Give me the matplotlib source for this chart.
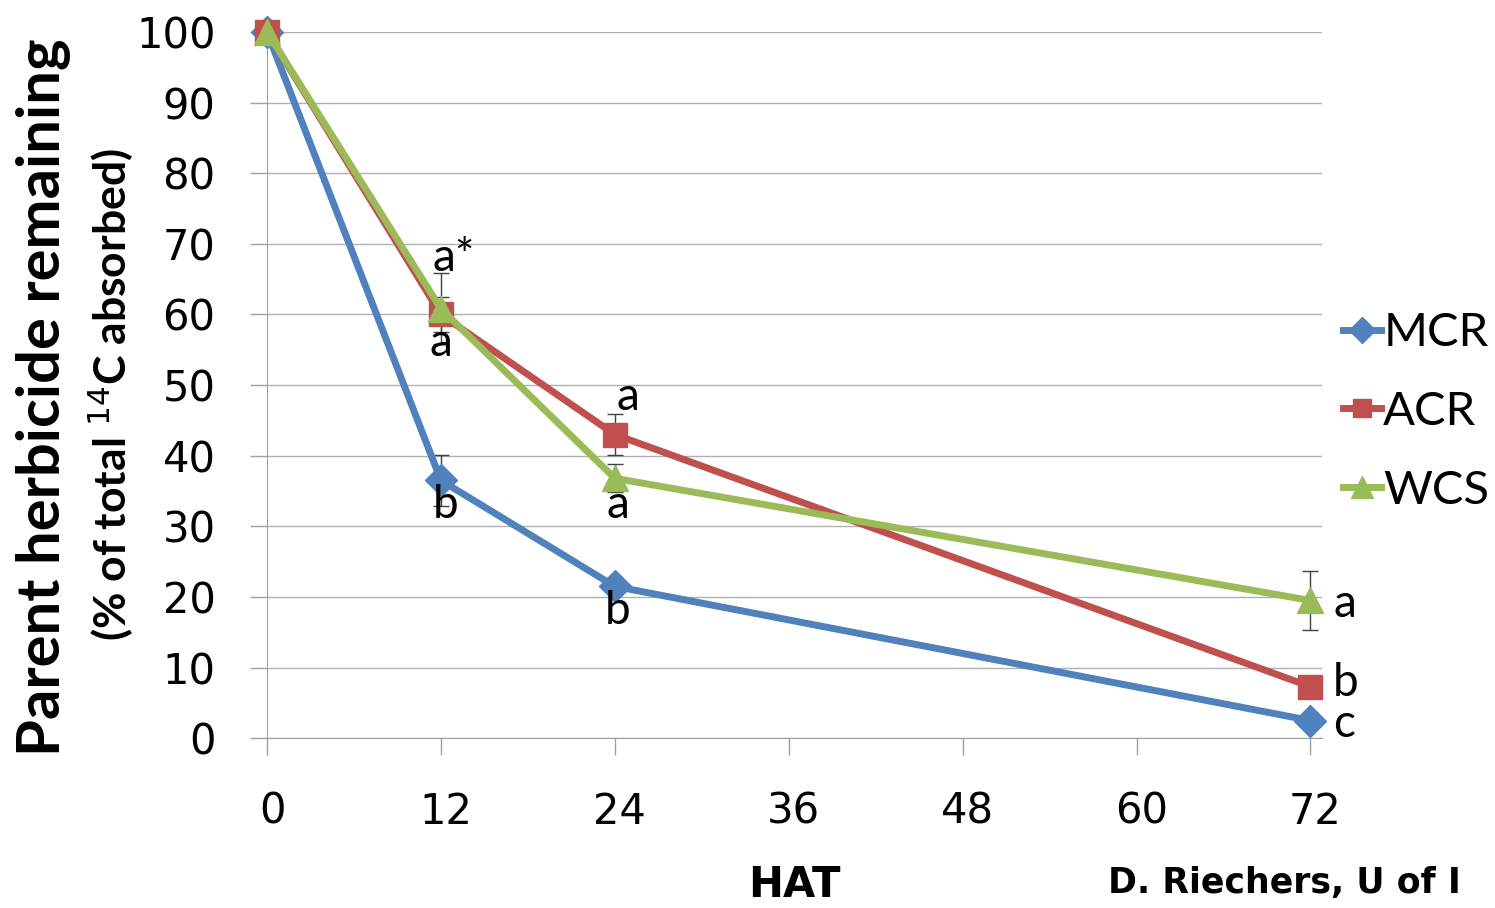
import numpy as np
import matplotlib.pyplot as plt
import matplotlib.transforms as mtransforms

hours = [0, 12, 24, 72]
mcr = [100, 36.5, 21.5, 2.5]
acr = [100, 60.0, 43.0, 7.3]
wcs = [100, 60.8, 36.8, 19.5]
mcr_err = [0, 3.6, 0.8, 1.0]
acr_err = [0, 2.5, 2.9, 0.8]
wcs_err = [0, 5.0, 2.0, 4.2]

# letters: (x, y, text)
letters = [
    (12.9, 68.0, "a*"), (12.0, 56.0, "a"), (12.3, 33.0, "b"),
    (24.9, 48.3, "a"), (24.2, 33.0, "a"), (24.2, 18.0, "b"),
    (74.4, 19.0, "a"), (74.4, 7.8, "b"), (74.3, 2.0, "c"),
]

blue = "#4F81BD"
red = "#C0504D"
green = "#9BBB59"

fig = plt.figure(figsize=(14.95, 9.08), dpi=100)
ax = fig.add_axes([0.1786, 0.187, 0.7057, 0.7778])

series = [
    ("MCR", mcr, mcr_err, blue, "D", 16),
    ("ACR", acr, acr_err, red, "s", 17),
    ("WCS", wcs, wcs_err, green, "^", 19),
]
for name, vals, err, col, mk, ms in series:
    ax.errorbar(hours, vals, yerr=err, fmt="none", ecolor="#404040",
                elinewidth=1, capsize=6, capthick=1, zorder=2, clip_on=False)
for name, vals, err, col, mk, ms in series:
    ax.plot(hours, vals, color=col, lw=5, marker=mk, markersize=ms,
            label=name, zorder=3, clip_on=False)

for x, y, t in letters:
    ax.text(x, y, t, fontsize=33, family="Lato", ha="center", va="center")

ax.set_xlim(0, 72.8)
ax.set_ylim(0, 100)
ax.set_xticks([0, 12, 24, 36, 48, 60, 72])
ax.set_yticks(range(0, 101, 10))
ax.tick_params(axis="both", labelsize=30, colors="#A0A0A0", labelcolor="black",
               length=12, width=1)
ax.tick_params(axis="x", pad=26)
ax.tick_params(axis="y", pad=25)
# tick labels on the x axis sit a little right of their ticks
shift = mtransforms.ScaledTranslation(5 / 100, 0, fig.dpi_scale_trans)
for lab in ax.get_xticklabels():
    lab.set_transform(lab.get_transform() + shift)
ax.grid(axis="y", color="#B0B0B0", lw=1)
ax.set_axisbelow(True)
for s in ["top", "right"]:
    ax.spines[s].set_visible(False)
for s in ["left", "bottom"]:
    ax.spines[s].set_color("#A0A0A0")

ax.set_xlabel("HAT", fontsize=30, fontweight="bold", labelpad=22)

fig.text(0.029, 0.563, "Parent herbicide remaining", rotation=90, fontsize=43,
         fontweight="bold", family="Lato", ha="center", va="center")
fig.text(0.074, 0.565, "(% of total $^{14}$C absorbed)", rotation=90, fontsize=32,
         fontweight="bold", family="Lato", ha="center", va="center")
fig.text(0.977, 0.028, "D. Riechers, U of I", fontsize=25, fontweight="bold",
         ha="right", va="center")

leg = ax.legend(loc="center left", bbox_to_anchor=(1.002, 0.462), frameon=False,
                prop={"family": "Lato", "size": 34}, handlelength=0.8,
                handletextpad=0.05, labelspacing=0.78, markerscale=0.8,
                borderaxespad=0)

fig.savefig("out.png", dpi=100)
